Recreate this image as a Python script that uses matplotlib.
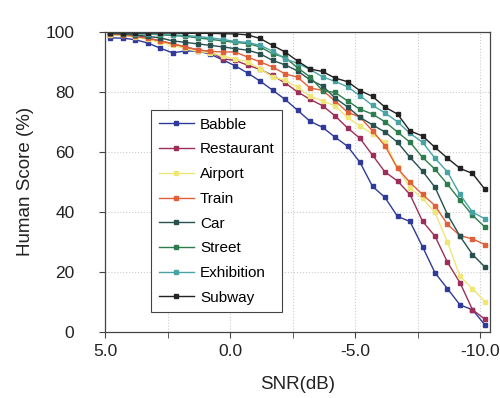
import matplotlib.pyplot as plt
from matplotlib.ticker import MultipleLocator, FixedLocator

plt.rcParams['font.family'] = ['Liberation Sans', 'DejaVu Sans']

# SNR points (dB), 0.5 dB steps
snr = [4.8, 4.3, 3.8, 3.3, 2.8, 2.3, 1.8, 1.3, 0.8, 0.3, -0.2, -0.7, -1.2, -1.7, -2.2, -2.7,
       -3.2, -3.7, -4.2, -4.7, -5.2, -5.7, -6.2, -6.7, -7.2, -7.7, -8.2, -8.7, -9.2, -9.7, -10.2]

babble = [98.0, 97.9, 97.4, 96.3, 94.6, 93.0, 93.6, 93.6, 92.6, 90.7, 88.7, 86.3, 83.6, 80.6, 77.5, 73.9,
          70.2, 68.2, 64.9, 61.9, 56.5, 48.5, 44.8, 38.5, 36.8, 28.4, 19.7, 14.4, 9.0, 7.4, 2.3]
restaurant = [99.0, 99.0, 98.8, 98.0, 97.0, 96.0, 95.0, 94.0, 93.5, 91.0, 90.5, 88.9, 87.5, 85.5, 83.0, 80.0,
              77.5, 75.4, 72.0, 68.0, 64.5, 58.9, 53.3, 50.3, 45.8, 36.9, 31.9, 23.2, 16.4, 7.4, 4.2]
airport = [99.0, 98.8, 98.3, 97.5, 96.5, 95.5, 94.5, 93.5, 93.0, 92.0, 91.0, 90.0, 87.7, 85.0, 83.8, 81.5,
           78.5, 77.0, 75.3, 71.5, 68.6, 66.0, 63.2, 54.8, 48.0, 44.5, 39.8, 29.9, 18.5, 14.4, 10.1]
train = [99.3, 99.0, 98.5, 97.8, 97.0, 96.0, 95.0, 94.0, 93.5, 93.3, 93.3, 91.6, 90.0, 88.3, 86.0, 84.9,
         81.3, 80.5, 77.0, 73.2, 71.6, 67.0, 62.0, 54.5, 49.8, 45.8, 42.1, 35.8, 32.1, 31.0, 29.1]
car = [99.5, 99.3, 99.0, 98.5, 98.0, 97.0, 96.5, 96.0, 95.5, 95.0, 94.4, 93.9, 92.7, 90.5, 89.0, 87.0,
       84.0, 82.0, 78.0, 75.0, 71.5, 69.0, 66.6, 63.2, 58.2, 53.6, 48.2, 39.1, 31.9, 25.8, 21.6]
street = [99.5, 99.5, 99.4, 99.3, 99.0, 98.8, 98.5, 98.0, 97.5, 97.0, 96.5, 96.1, 95.0, 92.7, 91.5, 88.0,
          85.0, 80.4, 79.8, 77.0, 74.2, 72.6, 70.0, 66.6, 63.2, 58.2, 54.2, 49.2, 43.9, 38.9, 34.9]
exhibition = [99.5, 99.5, 99.4, 99.3, 99.2, 99.0, 98.8, 98.5, 98.0, 97.5, 96.8, 96.5, 95.5, 93.6, 91.0, 89.5,
              87.5, 85.0, 83.5, 81.7, 78.7, 75.5, 73.0, 70.0, 66.2, 63.2, 57.9, 53.3, 45.8, 39.9, 37.7]
subway = [99.6, 99.6, 99.6, 99.6, 99.6, 99.6, 99.5, 99.5, 99.5, 99.4, 99.3, 99.0, 97.8, 95.5, 93.3, 90.3,
          87.6, 86.8, 84.6, 83.4, 80.4, 78.5, 74.9, 72.6, 67.0, 65.3, 61.5, 57.9, 54.5, 52.8, 47.5]

names = ['Babble', 'Restaurant', 'Airport', 'Train', 'Car', 'Street', 'Exhibition', 'Subway']
series = [babble, restaurant, airport, train, car, street, exhibition, subway]
colors = ['#2f3a9a', '#9c2f5a', '#efe678', '#e0603a', '#28504f', '#2e7d4e', '#4aa3a3', '#222222']

fig = plt.figure(figsize=(5, 3.98), dpi=100)
ax = fig.add_axes([0.21, 0.166, 0.77, 0.754])

for name, vals, c in zip(names, series, colors):
    ax.plot(snr, vals, '-s', color=c, lw=1, ms=3.0, label=name)

ax.set_xlim(5, -10.4)
ax.set_ylim(0, 100)
ax.xaxis.set_major_locator(FixedLocator([5, 0, -5, -10]))
ax.xaxis.set_minor_locator(FixedLocator([2.5, -2.5, -7.5]))
ax.yaxis.set_major_locator(MultipleLocator(20))
ax.set_xticklabels(['5.0', '0.0', '-5.0', '-10.0'])
ax.grid(True, which='both', ls=':', color='#cccccc', lw=0.8)
ax.tick_params(which='both', direction='out', length=4, color='#444444', labelsize=12.5,
               labelcolor='#222222')
ax.tick_params(axis='y', pad=18)
ax.tick_params(axis='x', pad=5)
for s in ax.spines.values():
    s.set_color('#444444')
    s.set_linewidth(0.9)

ax.set_xlabel('SNR(dB)', fontsize=13.5, color='#222222', labelpad=12)
ax.set_ylabel('Human Score (%)', fontsize=13.5, color='#222222', labelpad=8)

leg = ax.legend(loc='lower left', bbox_to_anchor=(0.1, 0.04), fontsize=11, handlelength=2.3,
                handletextpad=0.4, labelspacing=0.7, fancybox=False, framealpha=1,
                borderpad=0.5)
leg.get_frame().set_edgecolor('#444444')
leg.get_frame().set_linewidth(0.8)

fig.savefig('out.png', dpi=100)
